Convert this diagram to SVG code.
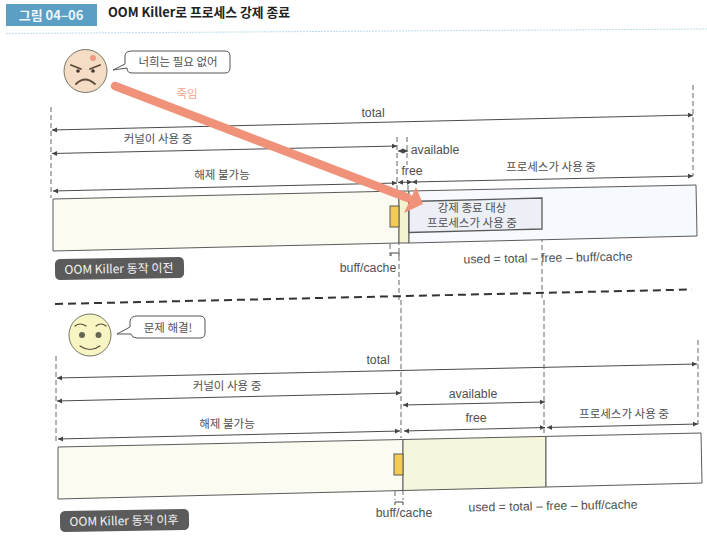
<svg xmlns="http://www.w3.org/2000/svg" width="707" height="536" viewBox="0 0 707 536">
<style>
text{font-family:"Noto Sans CJK KR","Liberation Sans",sans-serif;fill:#505050;font-size:11.500px;text-anchor:middle}
.en{font-family:"Liberation Sans","Noto Sans CJK KR",sans-serif;font-size:12.300px}
.arr{stroke:#4a4a4a;stroke-width:1;fill:none;marker-end:url(#h);marker-start:url(#hs)}
.dash{stroke:#666;stroke-width:1;stroke-dasharray:5 3;fill:none}
.sep{stroke:#333;stroke-width:2;stroke-dasharray:8 5;fill:none}
.bar{stroke:#5a5a5a;stroke-width:1}
.tag{fill:#5c5b5b}
.tagt{font-size:12px}
.bub{fill:#fff;stroke:#555;stroke-width:1}
.br{stroke:#444;stroke-width:1;fill:none}
.feat{stroke:#5a4a3a;fill:none;stroke-width:1.800;stroke-linecap:round}
</style>
<defs>
<marker id="h" markerWidth="6" markerHeight="6" refX="5" refY="3" orient="auto" markerUnits="userSpaceOnUse"><path d="M0,0.500L5,3L0,5.500z" fill="#444"/></marker>
<marker id="hs" markerWidth="6" markerHeight="6" refX="0" refY="3" orient="auto" markerUnits="userSpaceOnUse"><path d="M5,0.500L0,3L5,5.500z" fill="#444"/></marker>
</defs>
<rect width="707" height="536" fill="#fff"/>
<g id="header">
<rect x="6" y="4" width="91" height="22" fill="#5b9fc4"/>
<text x="51" y="20" style="fill:#eef6fa;font-size:13px;font-weight:700">그림 04–06</text>
<text x="108" y="17" style="fill:#222;font-size:12.800px;font-weight:700;text-anchor:start">OOM Killer로 프로세스 강제 종료</text>
<path d="M6,33.500L707,29" stroke="#bcdcea" stroke-width="1" stroke-dasharray="2 1" fill="none"/>
</g>
<g id="connectors">
<path class="dash" d="M51,107V198M693,85V176M397,137V190M407,137V165M408,185V196M390,228V256M399,240V300M542,229V300"/>
<path class="arr" d="M52,130L693,115"/>
<path class="arr" d="M52,153.500L397,146"/>
<path class="arr" d="M53,191L397,183"/>
<path class="arr" d="M398,151L408,151"/>
<path class="arr" d="M398,182.500L412,182"/>
<path class="arr" d="M412,182L693,176"/>
<path class="br" d="M391,256V253H399V256"/>
<path class="sep" d="M55,304L692,289.500"/>
<path class="dash" d="M56,356V441M698,340V424M401,300V438M544,300V434M395,475V500M403,490V500"/>
<path class="arr" d="M57,378L697,364"/>
<path class="arr" d="M57,401L401,393"/>
<path class="arr" d="M403,405L545,402"/>
<path class="arr" d="M404,431L545,427.500"/>
<path class="arr" d="M58,439L400,431"/>
<path class="arr" d="M547,427.500L698,424"/>
<path class="br" d="M395,505V502H403V505"/>
</g>
<g id="node-bar-before">
<polygon class="bar" points="53,199 399,191 399,243 53,251" fill="#fbfbf1"/>
<polygon class="bar" points="399,191 409,191 409,243 399,243" fill="#f3f3cf"/>
<polygon class="bar" points="409,191 696,185 697,236 409,243" fill="#f6f9fd"/>
<polygon class="bar" points="409,201.500 542,198 542,229 409,232.500" fill="#eceff6" style="stroke-width:1.300"/>
<rect class="bar" x="390" y="206" width="9" height="21" fill="#f2cc52"/>
<text x="472" y="212">강제 종료 대상</text>
<text x="472" y="227">프로세스가 사용 중</text>
</g>
<g id="node-bar-after">
<polygon class="bar" points="58,447 403,439.500 403,490.500 58,499" fill="#fbfbf1"/>
<polygon class="bar" points="403,439.500 546,436.400 546,487 403,490.500" fill="#f6f6dc"/>
<polygon class="bar" points="546,436.400 701,433 702,483 546,487" fill="#fff"/>
<rect class="bar" x="394" y="454" width="9" height="21" fill="#f2cc52"/>
</g>
<g id="node-face-angry">
<circle cx="85.500" cy="71" r="21.500" fill="#f5dcc4" stroke="#776" stroke-width="1"/>
<path class="feat" d="M71,65L81,69M100,65L90,69M76,84Q85,75 95,84"/>
<circle cx="78" cy="71" r="1.800" fill="#433"/><circle cx="93" cy="71" r="1.800" fill="#433"/>
<circle cx="93" cy="58" r="3" fill="#ee9a80"/>
</g>
<g id="node-bubble-angry">
<path class="bub" d="M132,51H225Q230,51 230,56V68Q230,73 225,73H132Q127,73 127,68L113,70L125,64V56Q125,51 132,51z"/>
<text x="178" y="66">너희는 필요 없어</text>
</g>
<g id="node-face-happy">
<circle cx="90" cy="335" r="21" fill="#f7f5c2" stroke="#776" stroke-width="1"/>
<path class="feat" style="stroke-width:1.200" d="M75,326Q80,322 86,326M96,326Q101,322 106,326M80,346Q90,353 100,346"/>
<circle cx="82" cy="335" r="3" fill="#665"/><circle cx="98.500" cy="335" r="3" fill="#665"/>
</g>
<g id="node-bubble-happy">
<path class="bub" d="M137,316H200Q205,316 205,321V333Q205,338 200,338H137Q132,338 131,334L117,334L130,327V321Q131,316 137,316z"/>
<text x="168" y="332">문제 해결!</text>
</g>
<g id="node-tag-before">
<rect class="tag" x="55" y="258" width="129" height="21" rx="5" transform="rotate(-1 120 268)"/>
<text class="tagt" x="119" y="273" transform="rotate(-1 120 268)" style="fill:#f4f4f4">OOM Killer 동작 이전</text>
</g>
<g id="node-tag-after">
<rect class="tag" x="60" y="510" width="129" height="21" rx="5" transform="rotate(-1 125 520)"/>
<text class="tagt" x="124" y="525" transform="rotate(-1 125 520)" style="fill:#f4f4f4">OOM Killer 동작 이후</text>
</g>
<g id="labels">
<text class="en" x="373" y="117">total</text>
<text x="158" y="143">커널이 사용 중</text>
<text x="222" y="179">해제 불가능</text>
<text x="551" y="171">프로세스가 사용 중</text>
<text class="en" x="435" y="154">available</text>
<text class="en" x="412" y="175">free</text>
<text class="en" x="368" y="272">buff/cache</text>
<text class="en" x="548" y="262" transform="rotate(-1 548 258)">used = total – free – buff/cache</text>
<text class="en" x="378" y="364">total</text>
<text x="227" y="390">커널이 사용 중</text>
<text x="227" y="428">해제 불가능</text>
<text class="en" x="473" y="398">available</text>
<text class="en" x="476" y="422">free</text>
<text x="624" y="418">프로세스가 사용 중</text>
<text class="en" x="404" y="517">buff/cache</text>
<text class="en" x="553" y="510" transform="rotate(-1 553 506)">used = total – free – buff/cache</text>
</g>
<g id="kill-arrow">
<path d="M115,86L408,198" stroke="#f0927a" stroke-width="8.500" stroke-linecap="round" fill="none"/>
<polygon points="423,204 416,187 404,213" fill="#f0927a"/>
<text x="187" y="98" style="fill:#f4a58c">죽임</text>
</g>
</svg>
